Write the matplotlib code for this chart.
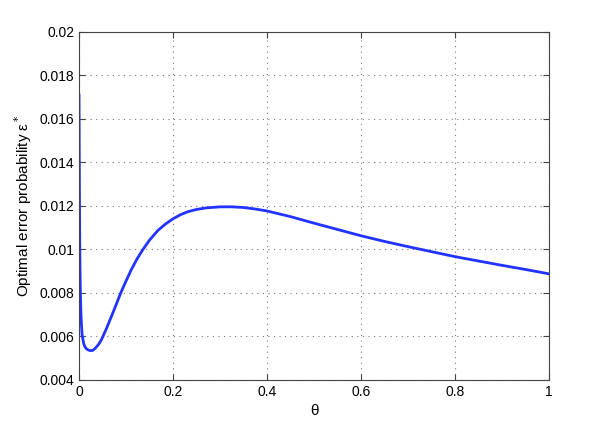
import numpy as np
import matplotlib.pyplot as plt

plt.rcParams['font.family'] = ['Liberation Sans', 'DejaVu Sans']

theta = [0.0, 0.0005, 0.001, 0.0015, 0.002, 0.003, 0.004, 0.005, 0.0065, 0.008,
         0.010, 0.012, 0.015, 0.018, 0.022, 0.026, 0.030, 0.035, 0.041, 0.0475,
         0.058, 0.0687, 0.0787, 0.0887, 0.1, 0.111, 0.123, 0.136, 0.15, 0.168,
         0.184, 0.2, 0.216, 0.232, 0.25, 0.27, 0.3, 0.325, 0.35, 0.375, 0.4, 0.45,
         0.5, 0.55, 0.6, 0.65, 0.7, 0.75, 0.8, 0.85, 0.9, 0.95, 1.0]
err = [0.0171, 0.0145, 0.0122, 0.0104, 0.0092, 0.0079, 0.0071, 0.0066, 0.0061, 0.0059,
       0.00568, 0.00555, 0.00545, 0.0054, 0.00536, 0.00535, 0.00537, 0.00547, 0.00562, 0.00584,
       0.00635, 0.00691, 0.00745, 0.0080, 0.00855, 0.00906, 0.00955, 0.0100, 0.01043, 0.01088,
       0.01117, 0.01141, 0.0116, 0.01174, 0.01184, 0.01191, 0.01196, 0.01196, 0.01193, 0.01186, 0.01177, 0.01151,
       0.01121, 0.01092, 0.01063, 0.01037, 0.01013, 0.0099, 0.00967, 0.00947, 0.00927, 0.00908, 0.00888]

fig = plt.figure(figsize=(6.06, 4.26), dpi=100)
ax = fig.add_axes([0.1304, 0.108, 0.7756, 0.817])
ax.plot(theta, err, color='#2233ff', lw=2)
ax.set_xlim(0, 1)
ax.set_ylim(0.004, 0.02)
ax.set_xticks([0, 0.2, 0.4, 0.6, 0.8, 1])
ax.set_xticklabels(['0', '0.2', '0.4', '0.6', '0.8', '1'])
ax.set_yticks(np.arange(0.004, 0.0201, 0.002))
ax.set_yticklabels(['0.004', '0.006', '0.008', '0.01', '0.012', '0.014', '0.016', '0.018', '0.02'])
ax.grid(True, linestyle=(0, (1, 4)), color='#777777', lw=0.8)
ax.tick_params(direction='in', top=True, right=True, labelsize=10, length=4, colors='#444444', labelcolor='black')
for s in ax.spines.values():
    s.set_color('#444444')
ax.set_xlabel('θ', fontsize=11)
ax.set_ylabel('Optimal error probability ε$^*$', fontsize=11)
fig.savefig('out.png', dpi=100)
